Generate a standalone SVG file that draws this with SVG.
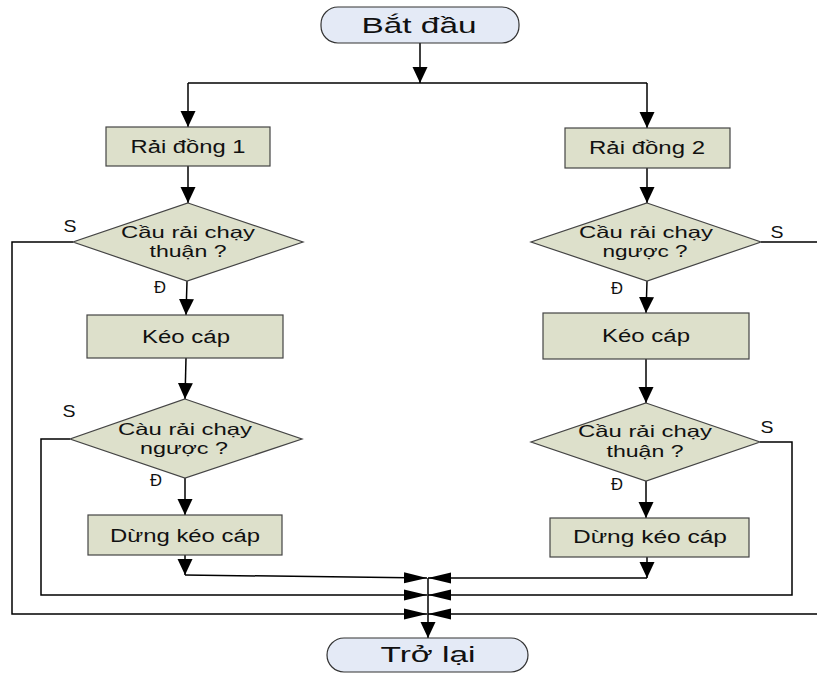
<svg xmlns="http://www.w3.org/2000/svg" width="817" height="674" viewBox="0 0 817 674">
<style>
.term{fill:#e4eaf6;stroke:#333;stroke-width:1.2}
.box{fill:#dde0cb;stroke:#444;stroke-width:1.2}
.t{font-family:"Liberation Sans",Arial,sans-serif;fill:#111;text-anchor:middle}
.big{font-size:22px}
.mid{font-size:18px}
.dt{font-size:16.5px}
.lab{font-size:16.5px}
.c{fill:none;stroke:#000;stroke-width:1.5}
</style>
<defs>
<marker id="arr" markerUnits="userSpaceOnUse" markerWidth="16" markerHeight="16" refX="16" refY="8" orient="auto">
<path d="M0,0.5 L16,8 L0,15.5 z" fill="#000"/>
</marker>
<marker id="arrL" markerUnits="userSpaceOnUse" markerWidth="24" markerHeight="12" refX="23" refY="6" orient="auto">
<path d="M0,0.5 L23,6 L0,11.5 z" fill="#000"/>
</marker>
</defs>
<g id="connectors">
<path class="c" d="M420,43 V83" marker-end="url(#arr)"/>
<path class="c" d="M188,83 H647"/>
<path class="c" d="M188,83 V127" marker-end="url(#arr)"/>
<path class="c" d="M647,83 V128" marker-end="url(#arr)"/>
<path class="c" d="M188,166 V203" marker-end="url(#arr)"/>
<path class="c" d="M647,168 V203" marker-end="url(#arr)"/>
<path class="c" d="M187,281 L186,315" marker-end="url(#arr)"/>
<path class="c" d="M647,281 L646,313" marker-end="url(#arr)"/>
<path class="c" d="M186,358 L185,399" marker-end="url(#arr)"/>
<path class="c" d="M646,359 V403" marker-end="url(#arr)"/>
<path class="c" d="M185,478 V515" marker-end="url(#arr)"/>
<path class="c" d="M646,481 V518" marker-end="url(#arr)"/>
<path class="c" d="M185,555 V575" marker-end="url(#arr)"/>
<path class="c" d="M185,575 L427,578" marker-end="url(#arrL)"/>
<path class="c" d="M647,557 V578" marker-end="url(#arr)"/>
<path class="c" d="M647,578 H428" marker-end="url(#arrL)"/>
<path class="c" d="M73,242 H12 V614 H427" marker-end="url(#arrL)"/>
<path class="c" d="M70,439 H41 V595 H427" marker-end="url(#arrL)"/>
<path class="c" d="M761,242 H819 V614 H428" marker-end="url(#arrL)"/>
<path class="c" d="M760,442 H792 V595 H428" marker-end="url(#arrL)"/>
<path class="c" d="M428,578 V638" marker-end="url(#arr)"/>
</g>
<g id="start">
<rect class="term" x="321" y="7" width="198" height="36" rx="17"/>
<text class="t big" x="419" y="33" textLength="115" lengthAdjust="spacingAndGlyphs">Bắt đầu</text>
</g>
<g id="rai1">
<rect class="box" x="106" y="127" width="164" height="39"/>
<text class="t mid" x="188" y="153" textLength="115" lengthAdjust="spacingAndGlyphs">Rải đồng 1</text>
</g>
<g id="rai2">
<rect class="box" x="565" y="128" width="165" height="40"/>
<text class="t mid" x="647" y="154" textLength="116" lengthAdjust="spacingAndGlyphs">Rải đồng 2</text>
</g>
<g id="d1">
<polygon class="box" points="188,203 303,242 187,281 73,242"/>
<text class="t dt" x="188" y="238" textLength="134" lengthAdjust="spacingAndGlyphs">Cầu rải chạy</text>
<text class="t dt" x="188" y="257" textLength="77" lengthAdjust="spacingAndGlyphs">thuận ?</text>
</g>
<g id="d2">
<polygon class="box" points="647,203 761,242 647,281 531,242"/>
<text class="t dt" x="646" y="238" textLength="134" lengthAdjust="spacingAndGlyphs">Cầu rải chạy</text>
<text class="t dt" x="645" y="257" textLength="85" lengthAdjust="spacingAndGlyphs">ngược ?</text>
</g>
<g id="keo1">
<rect class="box" x="87" y="315" width="196" height="43"/>
<text class="t mid" x="186" y="343" textLength="88" lengthAdjust="spacingAndGlyphs">Kéo cáp</text>
</g>
<g id="keo2">
<rect class="box" x="543" y="313" width="206" height="46"/>
<text class="t mid" x="646" y="342" textLength="88" lengthAdjust="spacingAndGlyphs">Kéo cáp</text>
</g>
<g id="d3">
<polygon class="box" points="185,399 302,439 185,478 70,439"/>
<text class="t dt" x="185" y="435" textLength="134" lengthAdjust="spacingAndGlyphs">Càu rải chạy</text>
<text class="t dt" x="184" y="454" textLength="88" lengthAdjust="spacingAndGlyphs">ngược ?</text>
</g>
<g id="d4">
<polygon class="box" points="646,403 760,442 646,481 531,442"/>
<text class="t dt" x="645" y="437" textLength="134" lengthAdjust="spacingAndGlyphs">Cầu rải chạy</text>
<text class="t dt" x="645" y="457" textLength="77" lengthAdjust="spacingAndGlyphs">thuận ?</text>
</g>
<g id="dung1">
<rect class="box" x="88" y="515" width="194" height="40"/>
<text class="t mid" x="185" y="542" textLength="150" lengthAdjust="spacingAndGlyphs">Dừng kéo cáp</text>
</g>
<g id="dung2">
<rect class="box" x="550" y="518" width="199" height="39"/>
<text class="t mid" x="650" y="543" textLength="154" lengthAdjust="spacingAndGlyphs">Dừng kéo cáp</text>
</g>
<g id="end">
<rect class="term" x="327" y="638" width="201" height="34" rx="17"/>
<text class="t big" x="428" y="662" textLength="95" lengthAdjust="spacingAndGlyphs">Trở lại</text>
</g>
<g id="labels">
<text class="t lab" x="70" y="232" textLength="13" lengthAdjust="spacingAndGlyphs">S</text>
<text class="t lab" x="777" y="238" textLength="13" lengthAdjust="spacingAndGlyphs">S</text>
<text class="t lab" x="69" y="417" textLength="13" lengthAdjust="spacingAndGlyphs">S</text>
<text class="t lab" x="767" y="433" textLength="13" lengthAdjust="spacingAndGlyphs">S</text>
<text class="t lab" x="160" y="293" textLength="12" lengthAdjust="spacingAndGlyphs">Đ</text>
<text class="t lab" x="617" y="294" textLength="12" lengthAdjust="spacingAndGlyphs">Đ</text>
<text class="t lab" x="156" y="486" textLength="12" lengthAdjust="spacingAndGlyphs">Đ</text>
<text class="t lab" x="617" y="490" textLength="12" lengthAdjust="spacingAndGlyphs">Đ</text>
</g>
</svg>
